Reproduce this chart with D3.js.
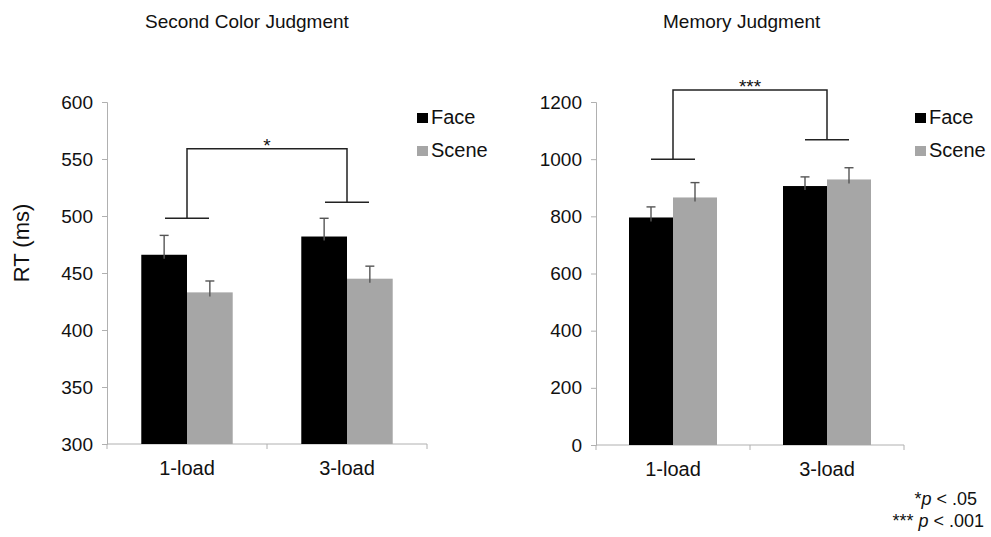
<!DOCTYPE html>
<html><head><meta charset="utf-8">
<script src="https://cdn.jsdelivr.net/npm/d3@7"></script>
<style>body{margin:0;background:#fff}svg{display:block}text{font-family:"Liberation Sans",Arial,sans-serif;fill:#111}</style>
</head><body><svg id="c" width="991" height="537"></svg>
<script>
const categories = ["1-load", "3-load"];
const seriesNames = ["Face", "Scene"];
const colorFace = [466, 482];
const colorScene = [433, 445];
const colorFaceErr = [17, 16];
const colorSceneErr = [10, 11];
const memFace = [796, 906];
const memScene = [866, 929];
const memFaceErr = [37, 32];
const memSceneErr = [52, 41];
const colorTicks = [300, 350, 400, 450, 500, 550, 600];
const memTicks = [0, 200, 400, 600, 800, 1000, 1200];
const colorBracket = {left: 498, right: 512, top: 559, label: "*"};
const memBracket = {left: 1000, right: 1068, top: 1242, label: "***"};

const svg = d3.select("#c");
const fills = {Face: "#000", Scene: "#a6a6a6"};

function panel(o) {
  const g = svg.append("g");
  const x = d3.scaleBand().domain(categories).range([o.x0, o.x1]).paddingInner(0).paddingOuter(0);
  const y = d3.scaleLinear().domain(o.domain).range([o.y0, o.y1]);
  const inner = d3.scaleBand().domain(seriesNames).range([0, x.bandwidth()]).paddingOuter(0.75).paddingInner(0);
  // y axis
  const ya = g.append("g").attr("transform", `translate(${o.x0},0)`)
    .call(d3.axisLeft(y).tickValues(o.ticks).tickFormat(d3.format("d")).tickSize(5).tickPadding(9));
  ya.attr("font-size", null).attr("font-family", null);
  ya.select(".domain").attr("stroke", "#b0b0b0");
  ya.selectAll(".tick line").attr("stroke", "#b0b0b0");
  ya.selectAll(".tick text").attr("font-size", 19).attr("fill", "#111");
  // x axis
  g.append("line").attr("x1", o.x0).attr("x2", o.x1).attr("y1", y(o.domain[0])).attr("y2", y(o.domain[0])).attr("stroke", "#b0b0b0");
  [o.x0, o.x0 + x.bandwidth(), o.x1].forEach(t => g.append("line").attr("x1", t).attr("x2", t)
    .attr("y1", y(o.domain[0])).attr("y2", y(o.domain[0]) + 5).attr("stroke", "#b0b0b0"));
  categories.forEach(c => g.append("text").attr("x", x(c) + x.bandwidth() / 2).attr("y", y(o.domain[0]) + 31)
    .attr("text-anchor", "middle").attr("font-size", 20).text(c));
  // bars
  const data = [];
  categories.forEach((c, i) => {
    data.push({c, s: "Face", v: o.face[i], e: o.faceErr[i]});
    data.push({c, s: "Scene", v: o.scene[i], e: o.sceneErr[i]});
  });
  g.selectAll("rect.bar").data(data).join("rect")
    .attr("x", d => x(d.c) + inner(d.s)).attr("width", inner.bandwidth())
    .attr("y", d => y(d.v)).attr("height", d => y(o.domain[0]) - y(d.v))
    .attr("fill", d => fills[d.s]);
  // error bars
  data.forEach(d => {
    const cx = x(d.c) + inner(d.s) + inner.bandwidth() / 2;
    g.append("line").attr("x1", cx).attr("x2", cx).attr("y1", y(d.v) + 4).attr("y2", y(d.v + d.e)).attr("stroke", "#555").attr("stroke-width", 1.4);
    g.append("line").attr("x1", cx - 4.5).attr("x2", cx + 4.5).attr("y1", y(d.v + d.e)).attr("y2", y(d.v + d.e)).attr("stroke", "#555").attr("stroke-width", 1.4);
  });
  // bracket
  const b = o.bracket;
  const c1 = x(categories[0]) + x.bandwidth() / 2, c2 = x(categories[1]) + x.bandwidth() / 2;
  const hw = 22;
  const bg = g.append("g").attr("stroke", "#222").attr("stroke-width", 1.5).attr("fill", "none");
  bg.append("line").attr("x1", c1 - hw).attr("x2", c1 + hw).attr("y1", y(b.left)).attr("y2", y(b.left));
  bg.append("line").attr("x1", c2 - hw).attr("x2", c2 + hw).attr("y1", y(b.right)).attr("y2", y(b.right));
  bg.append("path").attr("d", `M${c1},${y(b.left)}V${y(b.top)}H${c2}V${y(b.right)}`);
  g.append("text").attr("x", (c1 + c2) / 2).attr("y", y(b.top) + 3.5).attr("text-anchor", "middle").attr("font-size", 19).text(b.label);
  // title
  g.append("text").attr("x", o.titleX).attr("y", 28).attr("font-size", 19).text(o.title);
  // legend
  seriesNames.forEach((s, i) => {
    const ly = o.legY + i * 33;
    g.append("rect").attr("x", o.legX).attr("y", ly).attr("width", 11).attr("height", 10).attr("fill", fills[s]);
    g.append("text").attr("x", o.legX + 14).attr("y", ly + 11).attr("font-size", 20).text(s);
  });
}

panel({x0: 107, x1: 427, y0: 444, y1: 102, domain: [300, 600], ticks: colorTicks,
  face: colorFace, scene: colorScene, faceErr: colorFaceErr, sceneErr: colorSceneErr,
  bracket: colorBracket, title: "Second Color Judgment", titleX: 145, legX: 417, legY: 113});
panel({x0: 596, x1: 904, y0: 445, y1: 102, domain: [0, 1200], ticks: memTicks,
  face: memFace, scene: memScene, faceErr: memFaceErr, sceneErr: memSceneErr,
  bracket: memBracket, title: "Memory Judgment", titleX: 663, legX: 915, legY: 113});

svg.append("text").attr("transform", "translate(29,243) rotate(-90)").attr("text-anchor", "middle").attr("font-size", 22).text("RT (ms)");

const fn = svg.append("g").attr("font-size", 18);
const t1 = fn.append("text").attr("x", 977).attr("y", 505).attr("text-anchor", "end");
t1.append("tspan").text("*");
t1.append("tspan").attr("font-style", "italic").text("p");
t1.append("tspan").text(" < .05");
const t2 = fn.append("text").attr("x", 984).attr("y", 527).attr("text-anchor", "end");
t2.append("tspan").text("*** ");
t2.append("tspan").attr("font-style", "italic").text("p");
t2.append("tspan").text(" < .001");
</script></body></html>
